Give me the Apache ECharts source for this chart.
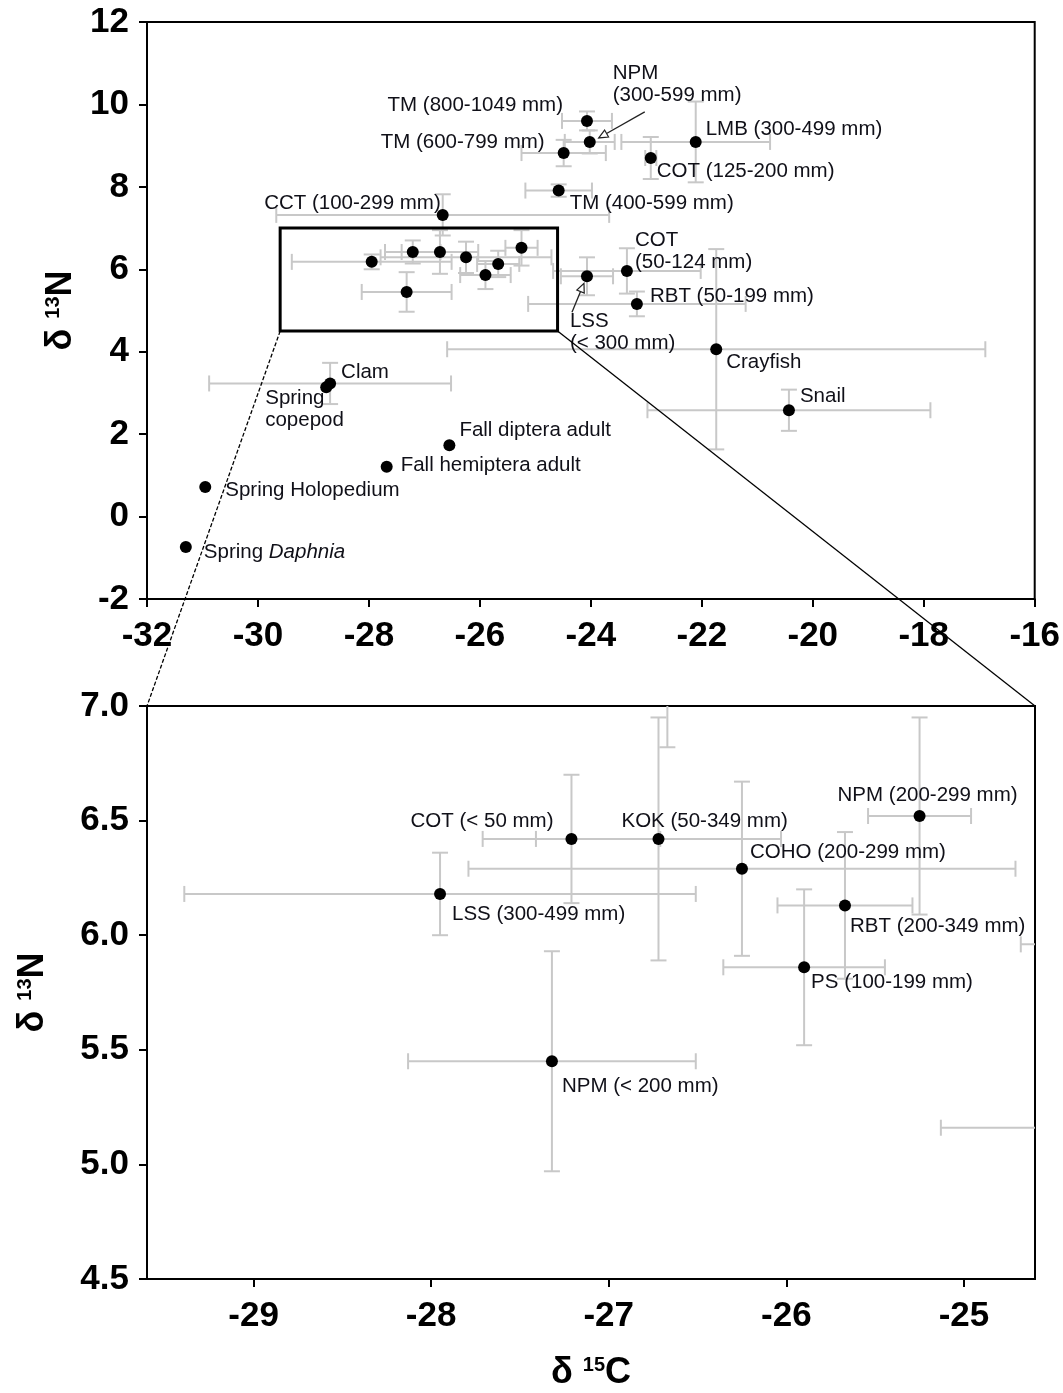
<!DOCTYPE html>
<html><head><meta charset="utf-8">
<script src="https://cdn.jsdelivr.net/npm/echarts@6/dist/echarts.min.js"></script>
<style>html,body{margin:0;padding:0;background:#fff}#c{width:1063px;height:1393px}</style>
</head><body><div id="c"></div>
<script>
// ---------- DATA ----------
const names = [
  'TM (800-1049 mm)','NPM (300-599 mm)','TM (600-799 mm)','LMB (300-499 mm)','COT (125-200 mm)',
  'TM (400-599 mm)','CCT (100-299 mm)','COT (50-124 mm)','LSS (< 300 mm)','RBT (50-199 mm)',
  'Crayfish','Snail','Clam','Spring copepod','Fall diptera adult','Fall hemiptera adult',
  'Spring Holopedium','Spring Daphnia',
  'COT (< 50 mm)','KOK (50-349 mm)','LSS (300-499 mm)','COHO (200-299 mm)','NPM (200-299 mm)',
  'RBT (200-349 mm)','PS (100-199 mm)','NPM (< 200 mm)'
];
const d13C = [-24.07,-24.02,-24.49,-22.11,-22.92,-24.58,-26.67,-23.35,-24.07,-23.17,
  -21.74,-20.43,-28.70,-28.77,-26.55,-27.68,-30.95,-31.30,
  -27.21,-26.72,-27.95,-26.25,-25.25,-25.67,-25.90,-27.32];
const d15N = [9.60,9.09,8.82,9.09,8.70,7.91,7.32,5.96,5.83,5.16,
  4.06,2.58,3.23,3.14,1.73,1.21,0.72,-0.74,
  6.42,6.42,6.18,6.29,6.52,6.13,5.86,5.45];
const errC = [0.45,0.45,0.76,1.34,0.10,0.60,3.00,1.33,0.47,1.96,
  4.85,2.55,2.18,0,0,0,0,0,
  0.50,0.69,1.44,1.54,0.29,0.38,0.455,0.81];
const errN = [0.23,0.28,0.32,0.98,0.51,0.15,0.50,0.55,0.46,0.30,
  2.43,0.50,0.50,0,0,0,0,0,
  0.28,0.53,0.18,0.38,0.43,0.32,0.34,0.48];
const topXRange = [-32, -16];
const topYRange = [-2, 12];
const zoomXRange = [-29.6, -24.6];
const zoomYRange = [4.5, 7.0];
const zoomXTicks = [-29, -28, -27, -26, -25];

// ---------- LABEL LAYOUT (pixel offsets from the point) ----------
const topLabelLayout = {
  'TM (800-1049 mm)': [-24,-16,'right'],
  'NPM (300-599 mm)': [23,-58,'left','NPM\n(300-599 mm)'],
  'TM (600-799 mm)': [-19,-11,'right'],
  'LMB (300-499 mm)': [10,-13,'left'],
  'COT (125-200 mm)': [6,13,'left'],
  'TM (400-599 mm)': [11,13,'left'],
  'CCT (100-299 mm)': [-2,-12,'right'],
  'COT (50-124 mm)': [8,-20,'left','COT\n(50-124 mm)'],
  'RBT (50-199 mm)': [13,-8,'left'],
  'LSS (< 300 mm)': [-17,56,'left','LSS\n(< 300 mm)'],
  'Crayfish': [10,13,'left'],
  'Snail': [11,-14,'left'],
  'Clam': [11,-11,'left'],
  'Spring copepod': [-61,22,'left','Spring\ncopepod'],
  'Fall diptera adult': [10,-15,'left'],
  'Fall hemiptera adult': [14,-1,'left'],
  'Spring Holopedium': [20,3,'left'],
  'Spring Daphnia': [18,5,'left','Spring {i|Daphnia}']
};
const zoomLabelLayout = {
  'COT (< 50 mm)': [-18,-18,'right'],
  'KOK (50-349 mm)': [-37,-18,'left'],
  'LSS (300-499 mm)': [12,20,'left'],
  'COHO (200-299 mm)': [8,-16,'left'],
  'NPM (200-299 mm)': [-82,-21,'left'],
  'RBT (200-349 mm)': [5,21,'left'],
  'PS (100-199 mm)': [7,15,'left'],
  'NPM (< 200 mm)': [10,25,'left']
};

const FONT = '"Liberation Sans", Arial, sans-serif';
const LBL_COLOR = '#101018';
const LBL_SIZE = 20.5;
function makeLabel(l) {
  if (!l) return {show:false};
  return {
    show:true, position:'inside', offset:[l[0], l[1]], align:l[2], verticalAlign:'middle',
    formatter: l[3] || '{b}', color:LBL_COLOR, fontSize:LBL_SIZE, fontFamily:FONT, lineHeight:22,
    rich:{ i:{fontStyle:'italic', fontSize:LBL_SIZE, fontFamily:FONT, color:LBL_COLOR} }
  };
}
function scatterData(layout) {
  return names.map((n,i)=>({name:n, value:[d13C[i], d15N[i]], label:makeLabel(layout[n])}));
}
const errData = names.map((n,i)=>[d13C[i], d15N[i], errC[i], errN[i]]);

function renderErr(params, api) {
  const x = api.value(0), y = api.value(1), ex = api.value(2), ey = api.value(3);
  const cap = 8, style = {stroke:'#c8c8c8', lineWidth:2};
  const ch = [];
  const ln = (x1,y1,x2,y2)=>ch.push({type:'line', shape:{x1,y1,x2,y2}, style});
  if (ex > 0) {
    const a = api.coord([x-ex, y]), b = api.coord([x+ex, y]);
    ln(a[0],a[1],b[0],b[1]); ln(a[0],a[1]-cap,a[0],a[1]+cap); ln(b[0],b[1]-cap,b[0],b[1]+cap);
  }
  if (ey > 0) {
    const a = api.coord([x, y-ey]), b = api.coord([x, y+ey]);
    ln(a[0],a[1],b[0],b[1]); ln(a[0]-cap,a[1],a[0]+cap,a[1]); ln(b[0]-cap,b[1],b[0]+cap,b[1]);
  }
  return {type:'group', children:ch};
}

const tickFont = {color:'#000', fontSize:35, fontWeight:'bold', fontFamily:FONT};
const axisLineS = {onZero:false, lineStyle:{color:'#000', width:2}};
const tickS = {show:true, inside:false, length:8, lineStyle:{color:'#000', width:2}};
const nameRich = {
  sup:{fontSize:20, fontWeight:'bold', fontFamily:FONT, color:'#000', verticalAlign:'top', padding:[0,0,12,0]},
  b:{fontSize:36, fontWeight:'bold', fontFamily:FONT, color:'#000'}
};

const option = {
  backgroundColor:'#fff',
  animation:false,
  grid:[
    {left:147, top:22, width:888, height:577, show:true, borderColor:'#000', borderWidth:2, backgroundColor:'transparent'},
    {left:147, top:706, width:888, height:573, show:true, borderColor:'#000', borderWidth:2, backgroundColor:'transparent'}
  ],
  xAxis:[
    {type:'value', gridIndex:0, min:topXRange[0], max:topXRange[1], interval:2,
     axisLine:axisLineS, axisTick:tickS, splitLine:{show:false},
     axisLabel:Object.assign({margin:20}, tickFont)},
    {type:'value', gridIndex:1, min:zoomXRange[0], max:zoomXRange[1],
     axisLine:axisLineS, axisTick:Object.assign({customValues:zoomXTicks}, tickS), splitLine:{show:false},
     axisLabel:Object.assign({margin:20, customValues:zoomXTicks}, tickFont),
     name:'{b|δ }{sup|15}{b|C}', nameLocation:'middle', nameGap:76,
     nameTextStyle:{rich:nameRich}}
  ],
  yAxis:[
    {type:'value', gridIndex:0, min:topYRange[0], max:topYRange[1], interval:2,
     axisLine:axisLineS, axisTick:tickS, splitLine:{show:false},
     axisLabel:Object.assign({margin:18}, tickFont),
     name:'{b|δ }{sup|13}{b|N}', nameLocation:'middle', nameGap:48, nameTextStyle:{rich:nameRich}},
    {type:'value', gridIndex:1, min:zoomYRange[0], max:zoomYRange[1], interval:0.5,
     axisLine:axisLineS, axisTick:tickS, splitLine:{show:false},
     axisLabel:Object.assign({margin:18, formatter:v=>v.toFixed(1)}, tickFont),
     name:'{b|δ }{sup|13}{b|N}', nameLocation:'middle', nameGap:96, nameTextStyle:{rich:nameRich}}
  ],
  series:[
    {type:'custom', xAxisIndex:0, yAxisIndex:0, data:errData, renderItem:renderErr, clip:true, z:1,
     encode:{x:0, y:1}, silent:true},
    {type:'custom', xAxisIndex:1, yAxisIndex:1, data:errData, renderItem:renderErr, clip:true, z:1,
     encode:{x:0, y:1}, silent:true},
    {type:'scatter', xAxisIndex:0, yAxisIndex:0, data:scatterData(topLabelLayout), symbol:'circle',
     symbolSize:12, itemStyle:{color:'#000', opacity:1}, clip:true, z:3},
    {type:'scatter', xAxisIndex:1, yAxisIndex:1, data:scatterData(zoomLabelLayout), symbol:'circle',
     symbolSize:12, itemStyle:{color:'#000', opacity:1}, clip:true, z:3}
  ]
};

const chart = echarts.init(document.getElementById('c'), null, {renderer:'canvas'});
chart.setOption(option);

// ---------- decorations: zoom box, connectors, arrows ----------
const px = (g, v) => chart.convertToPixel({gridIndex:g}, v);
const bTL = px(0, [zoomXRange[0], zoomYRange[1]]);
const bBR = px(0, [zoomXRange[1], zoomYRange[0]]);
const zTL = px(1, [zoomXRange[0], zoomYRange[1]]);
const zTR = px(1, [zoomXRange[1], zoomYRange[1]]);

function arrow(from, to) {
  const ang = Math.atan2(to[1]-from[1], to[0]-from[0]);
  const L = 9, W = 4;
  const bx = to[0] - L*Math.cos(ang), by = to[1] - L*Math.sin(ang);
  const nx = -Math.sin(ang)*W, ny = Math.cos(ang)*W;
  return [
    {type:'line', shape:{x1:from[0], y1:from[1], x2:bx, y2:by}, style:{stroke:'#222', lineWidth:1.3}, z:10},
    {type:'polygon', shape:{points:[[to[0],to[1]],[bx+nx,by+ny],[bx-nx,by-ny]]}, style:{fill:'#fff', stroke:'#222', lineWidth:1.2}, z:10}
  ];
}
const idx = n => names.indexOf(n);
const pNPM = px(0, [d13C[idx('NPM (300-599 mm)')], d15N[idx('NPM (300-599 mm)')]]);
const pLSS = px(0, [d13C[idx('LSS (< 300 mm)')], d15N[idx('LSS (< 300 mm)')]]);

const elements = [
  {type:'rect', shape:{x:bTL[0], y:bTL[1], width:bBR[0]-bTL[0], height:bBR[1]-bTL[1]},
   style:{fill:'none', stroke:'#000', lineWidth:3}, z:10},
  {type:'line', shape:{x1:bTL[0], y1:bBR[1], x2:zTL[0], y2:zTL[1]},
   style:{stroke:'#000', lineWidth:1.3, lineDash:[4,2]}, z:10},
  {type:'line', shape:{x1:bBR[0], y1:bBR[1], x2:zTR[0], y2:zTR[1]},
   style:{stroke:'#000', lineWidth:1.3}, z:10}
].concat(
  arrow([pNPM[0]+55, pNPM[1]-30], [pNPM[0]+9, pNPM[1]-4]),
  arrow([pLSS[0]-15, pLSS[1]+36], [pLSS[0]-3, pLSS[1]+7])
);
chart.setOption({graphic:{elements}});
</script>
</body></html>
